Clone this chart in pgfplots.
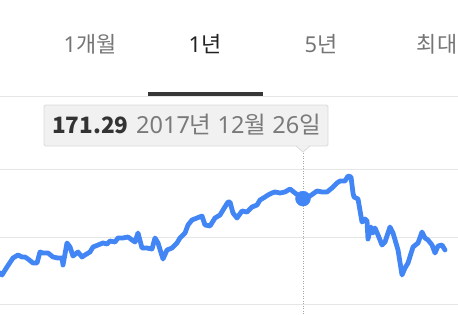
\documentclass[border=0pt]{standalone}
\usepackage{pgfplots}
\pgfplotsset{compat=1.18}
\usepackage{fontspec}
\setmainfont{Noto Sans}
\newfontfamily\krfont{Noto Sans CJK KR}
\newcommand\kr[1]{{\krfont #1}}

\definecolor{lineblue}{HTML}{4285F4}
\definecolor{tabgray}{HTML}{757575}
\definecolor{tabdark}{HTML}{212121}
\definecolor{gridgray}{HTML}{E6E6E6}
\definecolor{tipfill}{HTML}{F1F1F1}
\definecolor{tipborder}{HTML}{DADADA}
\definecolor{tipdate}{HTML}{7A7A7A}
\definecolor{tipvalue}{HTML}{333333}

% Daily closing prices over one year (x = trading position)
\pgfplotstableread{
x   y
0   149.41
2   148.82
7   151.18
13  153.82
18  154.71
22  154.12
25  154.12
28  153.53
33  152.35
37  152.35
40  155.59
43  155.29
48  155.29
53  154.12
58  153.82
62  153.82
63  151.76
67  158.24
70  157.06
73  154.41
78  155.59
82  154.12
85  154.71
90  155.59
93  157.06
98  157.65
103 158.24
107 157.94
110 158.82
115 158.53
118 159.71
123 159.71
128 160.00
132 159.12
135 158.53
138 161.18
142 156.76
147 156.76
152 156.47
155 159.71
158 158.24
163 153.53
167 156.18
172 156.76
177 158.24
180 159.71
185 161.18
188 163.53
192 165.00
197 165.59
202 166.18
205 163.53
210 163.24
215 165.59
220 166.47
223 167.94
228 170.29
230 170.29
233 167.06
237 165.59
242 167.65
247 167.35
252 168.82
257 169.41
260 170.88
265 171.76
268 172.35
272 172.94
275 173.24
280 172.94
285 173.24
290 174.12
295 172.94
303 171.29
310 172.06
317 173.53
322 173.24
327 173.24
332 174.41
337 175.88
340 176.47
345 176.47
348 177.94
351 177.65
353 172.94
354 171.76
358 171.18
362 164.41
365 165.29
367 164.71
368 159.41
371 162.94
373 161.18
375 162.65
378 160.59
382 157.65
385 158.53
390 162.94
393 161.18
398 156.18
402 148.82
405 150.88
408 152.35
413 157.06
418 158.24
422 161.47
425 159.71
428 159.12
432 157.65
435 155.29
438 157.35
442 157.65
445 156.18
}\pricedata

\begin{document}
\begin{tikzpicture}[x=1bp,y=1bp]
\path[use as bounding box] (0,0) rectangle (458,314);

% range tabs
\begin{scope}[font=\fontsize{22}{26}\selectfont]
  \node[anchor=base, text=tabgray] at (90,262) {1\kr{개월}};
  \node[anchor=base, text=tabdark] at (205,262) {1\kr{년}};
  \node[anchor=base, text=tabgray] at (321,262) {5\kr{년}};
  \node[anchor=base, text=tabgray] at (437,262) {\kr{최대}};
\end{scope}
\fill[gridgray] (0,217.5) rectangle (458,218.5);
\fill[tabdark!90] (148,218.5) rectangle (263,222.5);

\begin{axis}[
  at={(0,0)}, anchor=south west,
  width=458bp, height=164bp, scale only axis,
  xmin=0, xmax=458, ymin=137.35, ymax=185.59,
  axis line style={draw=none},
  xtick=\empty, ytick={140,160,180}, yticklabels={},
  major tick length=0pt,
  ymajorgrids, grid style={draw=gridgray, line width=1bp},
  clip=true,
]
  \addplot[draw=gray!70, line width=0.8bp, dash pattern=on 1bp off 1.5bp]
    coordinates {(303,137.35) (303,185.0)};
  \addplot[draw=lineblue, line width=4.8bp, line join=round, line cap=round]
    table[x=x, y=y] {\pricedata};
  \addplot[only marks, mark=*, mark size=7.5bp, mark options={fill=lineblue, draw=lineblue}]
    coordinates {(303,171.29)};
\end{axis}

% value tooltip
\filldraw[fill=tipfill, draw=tipborder, line width=0.8bp, rounded corners=1.5bp]
  (44,168) rectangle (328,209);
\fill[tipfill] (296,168.6) -- (303,162) -- (310,168.6) -- cycle;
\draw[tipborder, line width=0.8bp] (296,168) -- (303,162) -- (310,168);
\node[anchor=base west, inner sep=0pt, text=tipvalue, font=\krfont\fontsize{22.6}{27}\selectfont\bfseries]
  at (52,181) {171.29};
\node[anchor=base west, inner sep=0pt, text=tipdate, font=\fontsize{23.6}{28}\selectfont]
  at (136,181) {2017\kr{년} 12\kr{월} 26\kr{일}};
\end{tikzpicture}
\end{document}
